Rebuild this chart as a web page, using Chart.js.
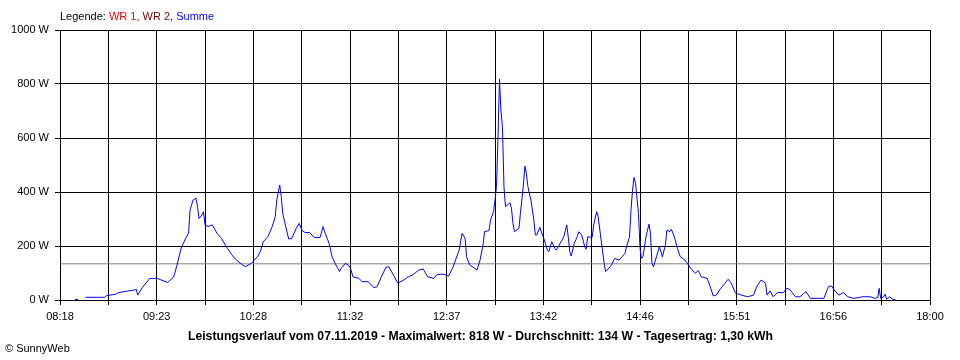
<!DOCTYPE html>
<html>
<head>
<meta charset="utf-8">
<script src="https://cdn.jsdelivr.net/npm/chart.js@4.4.1/dist/chart.umd.min.js"></script>
<style>
  body { margin: 0; background: #fff; }
  #wrap { position: relative; width: 960px; height: 360px; font-family: "Liberation Sans", Arial, sans-serif; color: #000; }
  canvas { position: absolute; left: 0; top: 0; }
  #legend { position: absolute; left: 60px; top: 10px; font-size: 11px; white-space: nowrap; }
  #caption { position: absolute; left: 0; width: 961px; top: 329px; text-align: center; font-weight: bold; font-size: 12.2px; white-space: nowrap; }
  #copy { position: absolute; left: 5px; top: 342px; font-size: 11px; white-space: nowrap; }
</style>
</head>
<body>
<div id="wrap">
  <canvas id="powerChart" width="960" height="360"></canvas>
  <div id="legend">Legende: <span style="color:#ff0000">WR 1,</span> <span style="color:#800000">WR 2,</span> <span style="color:#0000ff">Summe</span></div>
  <div id="caption">Leistungsverlauf vom 07.11.2019 - Maximalwert: 818 W - Durchschnitt: 134 W - Tagesertrag: 1,30 kWh</div>
  <div id="copy">© SunnyWeb</div>
</div>
<script>
// DATA
const times = [
  "08:28","08:30","08:32","08:35","08:48","08:49","08:55","08:57","09:03","09:08",
  "09:09","09:10","09:13","09:18","09:23","09:30","09:34","09:36","09:39","09:42",
  "09:44","09:45","09:47","09:49","09:50","09:51","09:53","09:54","09:55","09:57",
  "10:00","10:03","10:06","10:10","10:13","10:16","10:20","10:22","10:26","10:30",
  "10:32","10:34","10:37","10:40","10:42","10:43","10:45","10:46","10:47","10:49",
  "10:51","10:53","10:56","10:58","11:00","11:02","11:05","11:08","11:12","11:14",
  "11:15","11:18","11:20","11:22","11:25","11:26","11:29","11:32","11:34","11:38",
  "11:40","11:44","11:48","11:50","11:53","11:56","11:58","12:01","12:04","12:08",
  "12:11","12:14","12:18","12:21","12:24","12:28","12:30","12:34","12:38","12:41",
  "12:45","12:47","12:49","12:50","12:52","12:57","12:59","13:01","13:02","13:05",
  "13:06","13:08","13:09","13:10","13:11","13:12","13:13","13:14","13:15","13:16",
  "13:19","13:20","13:21","13:22","13:25","13:26","13:28","13:29","13:30","13:31",
  "13:33","13:35","13:36","13:37","13:39","13:40","13:42","13:44","13:45","13:47",
  "13:49","13:50","13:52","13:55","13:57","13:58","13:59","14:00","14:02","14:04",
  "14:05","14:07","14:09","14:10","14:11","14:14","14:15","14:17","14:18","14:20",
  "14:22","14:23","14:26","14:27","14:29","14:32","14:34","14:36","14:37","14:39",
  "14:40","14:41","14:42","14:43","14:45","14:46","14:47","14:48","14:50","14:52",
  "14:53","14:54","14:55","14:57","14:59","15:01","15:03","15:04","15:06","15:07",
  "15:09","15:11","15:13","15:16","15:20","15:23","15:25","15:27","15:31","15:33",
  "15:35","15:37","15:40","15:42","15:45","15:47","15:50","15:52","15:54","15:58",
  "16:02","16:04","16:07","16:10","16:11","16:13","16:15","16:18","16:22","16:24",
  "16:26","16:30","16:33","16:37","16:40","16:49","16:52","16:54","16:56","16:59",
  "17:02","17:05","17:09","17:15","17:20","17:23","17:25","17:26","17:27","17:29",
  "17:30","17:31","17:33","17:35","17:37"
];

const watts = [
  2, 2, null, 10, 10, 16, 21, 27, 33, 37,
  40, 18, 45, 80, 80, 65, 85, 123, 191, 228,
  247, 333, 370, 377, 346, 302, 315, 327, 278, 272,
  278, 247, 228, 191, 167, 148, 130, 123, 136, 160,
  179, 216, 234, 272, 309, 370, 426, 383, 321, 272,
  226, 228, 265, 284, 257, 250, 250, 232, 232, 272,
  253, 210, 160, 136, 105, 117, 136, 123, 86, 80,
  68, 68, 46, 49, 86, 121, 123, 93, 62, 74,
  86, 93, 111, 115, 86, 80, 93, 96, 89, 123,
  185, 247, 228, 160, 130, 111, 148, 204, 253, 257,
  296, 327, 370, 420, 600, 818, 700, 640, 420, 346,
  360, 340, 284, 253, 265, 321, 426, 496, 469, 420,
  370, 296, 241, 241, 269, 253, 222, 185, 179, 216,
  191, 185, 204, 234, 278, 234, 179, 163, 210, 234,
  253, 241, 198, 188, 234, 232, 278, 327, 309, 222,
  136, 105, 123, 130, 154, 148, 160, 173, 198, 234,
  333, 407, 454, 432, 321, 191, 154, 160, 234, 281,
  247, 136, 123, 160, 198, 160, 204, 259, 253, 262,
  234, 191, 160, 148, 117, 99, 109, 86, 80, 49,
  15, 18, 43, 56, 77, 62, 25, 22, 18, 12,
  18, 49, 74, 62, 18, 34, 12, 28, 27, 43,
  40, 12, 12, 31, 6, 6, 49, 52, 37, 18,
  27, 12, 6, 12, 12, 6, 9, 43, 6, 12,
  22, 3, 12, 3, 0
];

const averageWatt = 134;
const xTickLabels = ["08:18", "09:23", "10:28", "11:32", "12:37", "13:42", "14:46", "15:51", "16:56", "18:00"];
const yTickValues = [0, 200, 400, 600, 800, 1000];

// HELPERS
function toMinutes(hhmm) {
  const [h, m] = hhmm.split(":").map(Number);
  return h * 60 + m;
}

const xMin = toMinutes(xTickLabels[0]);
const xMax = toMinutes(xTickLabels[xTickLabels.length - 1]);
const gridSteps = (xTickLabels.length - 1) * 2; // one unlabelled line between two labels

const tickFont = { family: "'Liberation Sans', Arial, sans-serif", size: 11 };

const ctx = document.getElementById("powerChart").getContext("2d");

new Chart(ctx, {
  type: "line",
  data: {
    datasets: [
      {
        label: "Summe",
        data: times.map((t, i) => ({ x: toMinutes(t), y: watts[i] })),
        borderColor: "#0000ff",
        borderWidth: 1,
        pointRadius: 0,
        tension: 0,
        spanGaps: false
      },
      {
        label: "Durchschnitt",
        data: [{ x: xMin, y: averageWatt }, { x: xMax, y: averageWatt }],
        borderColor: "#808080",
        borderWidth: 1,
        pointRadius: 0
      }
    ]
  },
  options: {
    responsive: false,
    animation: false,
    devicePixelRatio: 1,
    layout: { padding: { top: 30, right: 30, left: 0, bottom: 0 } },
    plugins: {
      legend: { display: false },
      tooltip: { enabled: false }
    },
    scales: {
      x: {
        type: "linear",
        min: xMin,
        max: xMax,
        afterBuildTicks: scale => {
          scale.ticks = [];
          for (let i = 0; i <= gridSteps; i++) {
            scale.ticks.push({ value: xMin + (xMax - xMin) * i / gridSteps });
          }
        },
        afterFit: scale => { scale.height = 60; },
        ticks: {
          autoSkip: false,
          maxRotation: 0,
          color: "#000",
          font: tickFont,
          padding: 5,
          callback: (value, index) => (index % 2 === 0 ? xTickLabels[index / 2] : "")
        },
        grid: { color: "#000", lineWidth: 1, tickLength: 5, tickColor: "#000" },
        border: { color: "#000", width: 1 }
      },
      y: {
        min: 0,
        max: 1000,
        afterBuildTicks: scale => {
          scale.ticks = yTickValues.map(v => ({ value: v }));
        },
        afterFit: scale => { scale.width = 60; },
        ticks: {
          color: "#000",
          font: tickFont,
          padding: 6,
          callback: value => value + " W"
        },
        grid: { color: "#000", lineWidth: 1, tickLength: 5, tickColor: "#000" },
        border: { color: "#000", width: 1 }
      }
    }
  }
});
</script>
</body>
</html>
